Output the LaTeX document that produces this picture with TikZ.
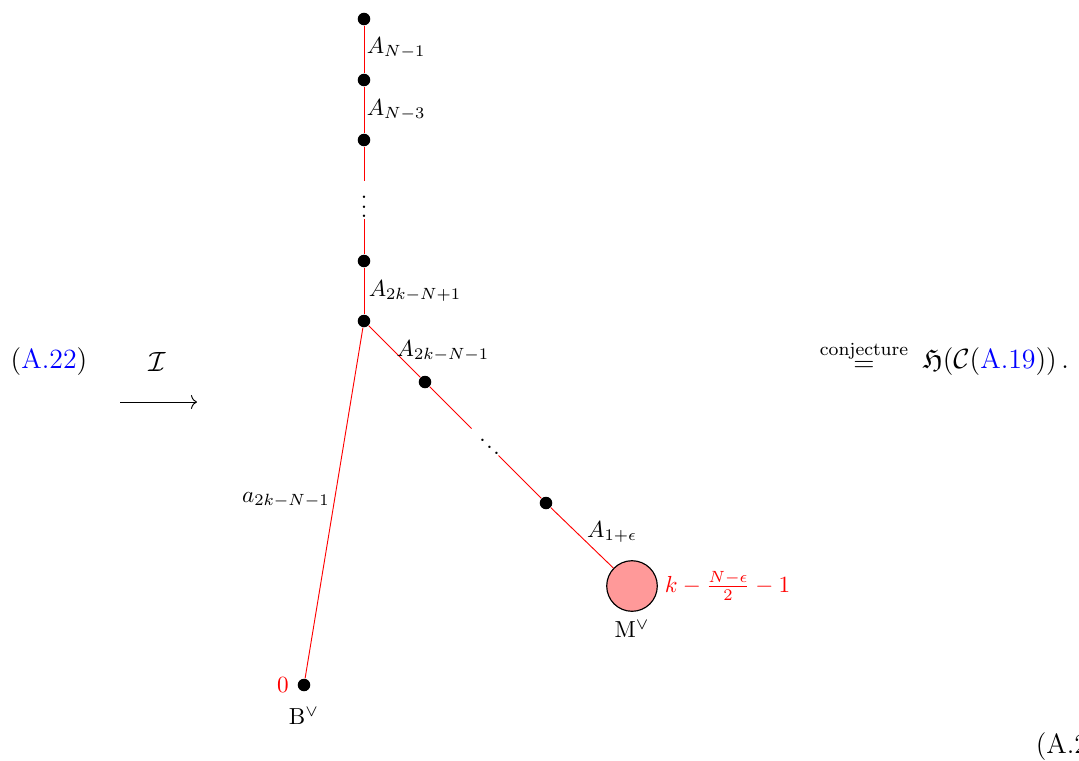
\documentclass[tikz,border=0pt]{standalone}
\usepackage{amsmath,amssymb}
\usepackage{xcolor}
\usetikzlibrary{arrows.meta}
\begin{document}
\begin{tikzpicture}[x=0.431pt,y=-0.431pt,
  dot/.style={circle,fill=black,inner sep=0pt,minimum size=5.4pt},
  link/.style={red,line width=0.4pt},
  lab/.style={inner sep=1pt,font=\fontsize{10}{12}\selectfont},
  big/.style={inner sep=1pt,font=\fontsize{12}{14.5}\selectfont},
  redlab/.style={lab,text=red},
  gapdots/.style={inner sep=0.5pt,font=\fontsize{10}{12}\selectfont},
  bigm/.style={circle,draw=black,fill=red!40,line width=0.5pt,minimum size=21.8pt,inner sep=0pt}]
\useasboundingbox (0,0) rectangle (1079,760);
% vertical chain
\node[dot] (v1) at (364,19) {};
\node[dot] (v2) at (364,80) {};
\node[dot] (v3) at (364,140) {};
\node[gapdots] (vd) at (364,200) {$\vdots$};
\node[dot] (v4) at (364,261) {};
\node[dot] (v5) at (364,321) {};
% diagonal chain
\node[dot] (d1) at (425,382) {};
\node[gapdots,rotate=45] (dd) at (485,442) {$\vdots$};
\node[dot] (d2) at (546,503) {};
\node[bigm] (M) at (632,586) {};
% long leg
\node[dot] (B) at (304,685) {};
% connectors
\draw[link] (v1) -- (v2);
\draw[link] (v2) -- (v3);
\draw[link] (v3) -- (vd);
\draw[link] (vd) -- (v4);
\draw[link] (v4) -- (v5);
\draw[link] (v5) -- (d1);
\draw[link] (d1) -- (dd);
\draw[link] (dd) -- (d2);
\draw[link] (d2) -- (M);
\draw[link] (v5) -- (B);
% labels
\node[lab,anchor=west] (l1) at (364,48) {$A_{N-1}$};
\node[lab,anchor=west] (l2) at (364,110) {$A_{N-3}$};
\node[lab,anchor=west] (l3) at (366,291) {$A_{2k-N+1}$};
\node[lab] (l4) at (443,351) {$A_{2k-N-1}$};
\node[lab] (l5) at (612,532) {$A_{1+\epsilon}$};
\node[lab] (l6) at (286,500) {$a_{2k-N-1}$};
\node[redlab,anchor=west] (mk) at (662,586) {$k-\frac{N-\epsilon}{2}-1$};
\node[lab] (mv) at (632,629) {M$^\vee$};
\node[redlab] (zero) at (283,685) {$0$};
\node[lab] (bv) at (304,716) {B$^\vee$};
% left part
\node[big] (ref1) at (49,362) {(\textcolor{blue}{A.22})};
\node[big] (calI) at (157,362) {$\mathcal{I}$};
\coordinate (a0) at (120,402);
\coordinate (a1) at (197,402);
\draw[line width=0.4pt,-{To[length=2.6pt,width=6pt]}] (a0) -- (a1);
% right part
\node[big] (eq) at (864,356) {$\overset{\text{conjecture}}{=}$};
\node[big,anchor=west] (rhs) at (920,362) {$\mathfrak{H}(\mathcal{C}(\textcolor{blue}{\text{A.19}}))\,.$};
\node[big,anchor=base west] (eqno) at (1033,753) {(A.2};
\end{tikzpicture}
\end{document}
